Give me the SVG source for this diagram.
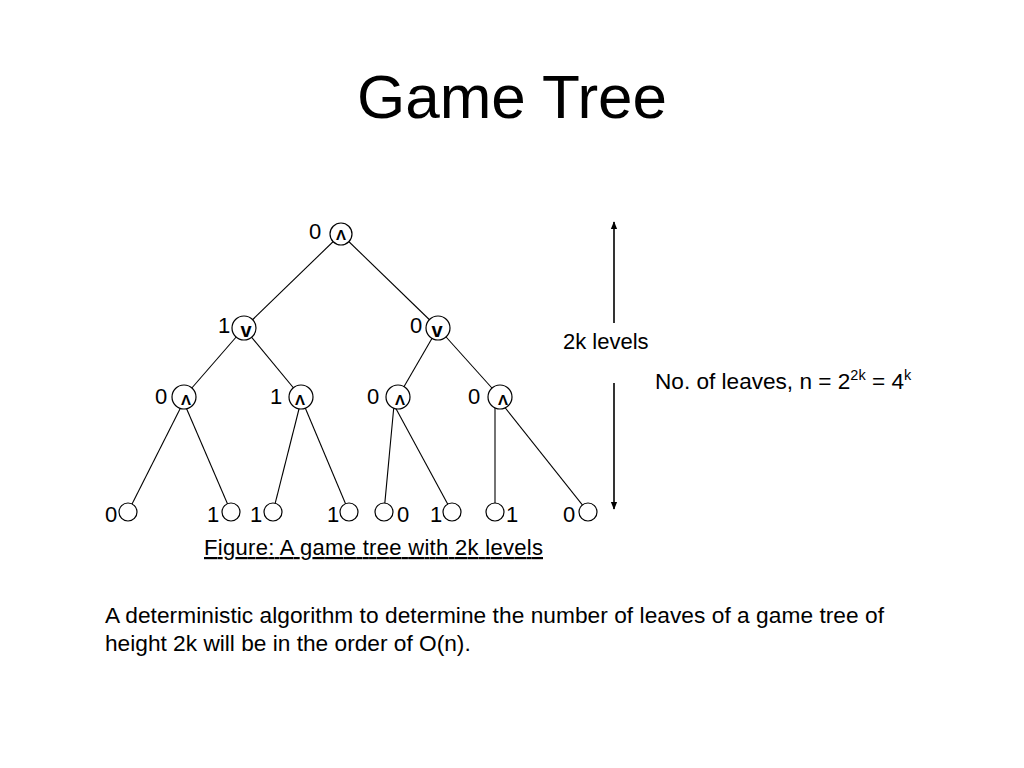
<svg xmlns="http://www.w3.org/2000/svg" width="1024" height="768" viewBox="0 0 1024 768">
<style>
text{font-family:"Liberation Sans",Arial,sans-serif;fill:#000}
.lbl{font-size:22px}
.sym{font-size:15px;font-weight:bold;text-anchor:middle}
.symv{font-size:20px;font-weight:bold;text-anchor:middle}
.node{fill:#fff;stroke:#000;stroke-width:1.2}
.edge{stroke:#000;stroke-width:1.1;fill:none}
.arr{stroke:#000;stroke-width:1.6;fill:none}
</style>
<defs>
<marker id="ah" viewBox="0 0 10 10" refX="9" refY="5" markerWidth="8" markerHeight="8" markerUnits="userSpaceOnUse" orient="auto">
<path d="M0,1 L10,5 L0,9 z" fill="#000"/>
</marker>
</defs>
<rect width="1024" height="768" fill="#fff"/>
<text x="512" y="118" font-size="62" text-anchor="middle">Game Tree</text>
<g id="connectors">
<line class="edge" x1="341" y1="234" x2="244" y2="328"/>
<line class="edge" x1="341" y1="234" x2="438" y2="328"/>
<line class="edge" x1="244" y1="328" x2="184" y2="397"/>
<line class="edge" x1="244" y1="328" x2="301" y2="397"/>
<line class="edge" x1="438" y1="328" x2="398" y2="397"/>
<line class="edge" x1="438" y1="328" x2="500" y2="397"/>
<line class="edge" x1="182" y1="405" x2="128" y2="512"/>
<line class="edge" x1="185" y1="405" x2="231" y2="512"/>
<line class="edge" x1="300" y1="405" x2="273" y2="512"/>
<line class="edge" x1="304" y1="405" x2="349" y2="512"/>
<line class="edge" x1="394" y1="405" x2="384" y2="512"/>
<line class="edge" x1="394" y1="405" x2="452" y2="512"/>
<line class="edge" x1="495" y1="405" x2="495" y2="512"/>
<line class="edge" x1="503" y1="405" x2="588" y2="512"/>
</g>
<g id="root"><circle class="node" cx="341" cy="234" r="11"/><text class="sym" x="341" y="240">Λ</text><text class="lbl" x="315" y="239" text-anchor="middle">0</text></g>
<g id="n1a"><circle class="node" cx="244" cy="328" r="12"/><text class="symv" x="246" y="337">v</text><text class="lbl" x="224" y="333" text-anchor="middle">1</text></g>
<g id="n1b"><circle class="node" cx="438" cy="328" r="12"/><text class="symv" x="437" y="337">v</text><text class="lbl" x="416" y="333" text-anchor="middle">0</text></g>
<g id="n2a"><circle class="node" cx="184" cy="397" r="12"/><text class="sym" x="186" y="405">Λ</text><text class="lbl" x="161" y="404" text-anchor="middle">0</text></g>
<g id="n2b"><circle class="node" cx="301" cy="397" r="12"/><text class="sym" x="300" y="405">Λ</text><text class="lbl" x="276" y="404" text-anchor="middle">1</text></g>
<g id="n2c"><circle class="node" cx="398" cy="397" r="12"/><text class="sym" x="400" y="405">Λ</text><text class="lbl" x="373" y="404" text-anchor="middle">0</text></g>
<g id="n2d"><circle class="node" cx="500" cy="397" r="12"/><text class="sym" x="503" y="405">Λ</text><text class="lbl" x="474" y="404" text-anchor="middle">0</text></g>
<g id="leaf1"><circle class="node" cx="128" cy="512" r="9"/><text class="lbl" x="111" y="522" text-anchor="middle">0</text></g>
<g id="leaf2"><circle class="node" cx="231" cy="512" r="9"/><text class="lbl" x="213" y="522" text-anchor="middle">1</text></g>
<g id="leaf3"><circle class="node" cx="273" cy="512" r="9"/><text class="lbl" x="256" y="522" text-anchor="middle">1</text></g>
<g id="leaf4"><circle class="node" cx="349" cy="512" r="9"/><text class="lbl" x="333" y="522" text-anchor="middle">1</text></g>
<g id="leaf5"><circle class="node" cx="384" cy="512" r="9"/><text class="lbl" x="403" y="522" text-anchor="middle">0</text></g>
<g id="leaf6"><circle class="node" cx="452" cy="512" r="9"/><text class="lbl" x="436" y="522" text-anchor="middle">1</text></g>
<g id="leaf7"><circle class="node" cx="495" cy="512" r="9"/><text class="lbl" x="512" y="522" text-anchor="middle">1</text></g>
<g id="leaf8"><circle class="node" cx="588" cy="512" r="9"/><text class="lbl" x="569" y="522" text-anchor="middle">0</text></g>
<g id="levels">
<line class="arr" x1="614" y1="323" x2="614" y2="222" marker-end="url(#ah)"/>
<line class="arr" x1="614" y1="383" x2="614" y2="509" marker-end="url(#ah)"/>
<text class="lbl" x="563" y="349">2k levels</text>
</g>
<text x="655" y="389" font-size="22.6">No. of leaves, n = 2<tspan font-size="14.5" dy="-9">2k</tspan><tspan dy="9"> = 4</tspan><tspan font-size="14.5" dy="-9">k</tspan></text>
<text class="lbl" x="204" y="555" text-decoration="underline" textLength="339">Figure: A game tree with 2k levels</text>
<text x="105" y="623" font-size="22.7" textLength="779">A deterministic algorithm to determine the number of leaves of a game tree of</text>
<text x="105" y="651" font-size="22.7">height 2k will be in the order of O(n).</text>
</svg>
